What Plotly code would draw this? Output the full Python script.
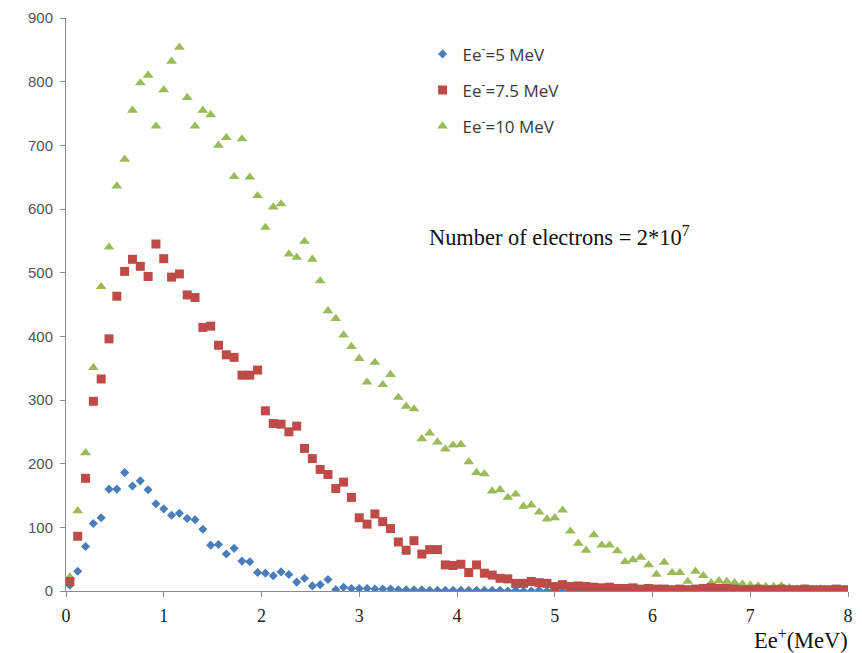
import plotly.graph_objects as go

# Positron energy bin centres (0.08 MeV bins from 0 to 8 MeV)
energy = [round(0.04 + 0.08 * i, 2) for i in range(100)]

counts_5mev = [
    9, 31, 70, 106, 115, 160, 160, 186, 165, 173,
    159, 137, 129, 119, 122, 114, 112, 97, 72, 73,
    58, 67, 47, 46, 29, 28, 24, 30, 26, 14,
    20, 8, 10, 18, 2, 6, 4, 4, 4, 3,
    3, 3, 2, 2, 2, 2, 1, 1, 1, 1,
    1, 1, 1, 1, 1, 1, 0, 1, 0, 0,
    1, 0, 0, 0, 0, 1, 0, 0, 0, 0,
    0, 0, 0, 0, 0, 0, 0, 0, 0, 0,
    0, 0, 0, 0, 0, 0, 0, 0, 0, 0,
    0, 0, 0, 0, 0, 0, 0, 0, 0, 0,
]

counts_7_5mev = [
    15, 86, 177, 298, 333, 396, 463, 502, 521, 510,
    494, 545, 522, 493, 498, 465, 461, 414, 416, 386,
    371, 367, 339, 339, 347, 283, 263, 262, 250, 259,
    224, 208, 191, 183, 161, 171, 147, 115, 105, 121,
    109, 98, 77, 64, 79, 58, 65, 65, 41, 40,
    42, 29, 41, 28, 25, 20, 19, 12, 12, 15,
    13, 12, 7, 10, 7, 8, 7, 6, 5, 6,
    4, 4, 5, 3, 4, 3, 3, 2, 3, 2,
    3, 4, 5, 4, 4, 3, 2, 2, 3, 2,
    2, 3, 2, 2, 3, 2, 2, 2, 3, 2,
]

counts_10mev = [
    22, 126, 217, 351, 478, 540, 636, 678, 755, 798,
    810, 730, 787, 832, 854, 775, 730, 755, 748, 700,
    712, 651, 710, 650, 621, 571, 603, 608, 529, 524,
    549, 521, 487, 440, 428, 402, 384, 365, 328, 359,
    324, 340, 304, 290, 286, 239, 248, 234, 223, 229,
    230, 203, 186, 184, 157, 159, 147, 152, 133, 135,
    124, 113, 115, 127, 94, 75, 64, 88, 72, 72,
    63, 46, 49, 53, 41, 26, 45, 29, 29, 15,
    31, 24, 13, 16, 15, 13, 11, 9, 8, 7,
    7, 8, 5, 3, 4, 2, 3, 2, 1, 2,
]

series_names = ["Ee<sup>-</sup>=5 MeV", "Ee<sup>-</sup>=7.5 MeV", "Ee<sup>-</sup>=10 MeV"]
x_ticks = [0, 1, 2, 3, 4, 5, 6, 7, 8]
y_ticks = [0, 100, 200, 300, 400, 500, 600, 700, 800, 900]

fig = go.Figure()

fig.add_trace(go.Scatter(
    x=energy, y=counts_5mev, mode="markers", name=series_names[0],
    legendgroup="a", legendrank=1,
    marker=dict(symbol="diamond", size=7, color="#4A7EBB", line=dict(width=0)),
))
fig.add_trace(go.Scatter(
    x=energy, y=counts_10mev, mode="markers", name=series_names[2],
    legendgroup="c", legendrank=3,
    marker=dict(symbol="triangle-up", size=9.5, color="#9BBB59", line=dict(width=0)),
))
fig.add_trace(go.Scatter(
    x=energy, y=counts_7_5mev, mode="markers", name=series_names[1],
    legendgroup="b", legendrank=2,
    marker=dict(symbol="square", size=9, color="#BE4B48", line=dict(width=0)),
))

axis_col = "#8A8A8A"

fig.update_layout(
    width=862, height=653,
    margin=dict(l=66, r=9, t=18, b=62),
    paper_bgcolor="white", plot_bgcolor="white",
    showlegend=True,
    legend=dict(
        x=0.456, y=0.968, xanchor="left", yanchor="top",
        font=dict(family="Open Sans", size=17, color="#3A3A3A"),
        tracegroupgap=11, bgcolor="rgba(0,0,0,0)",
    ),
    xaxis=dict(
        range=[0, 8], tickvals=x_ticks, ticktext=[str(t) for t in x_ticks],
        showgrid=False, zeroline=False,
        showline=True, linecolor=axis_col, linewidth=1,
        ticks="outside", ticklen=5, tickcolor=axis_col,
        ticklabelstandoff=3,
        tickfont=dict(family="Liberation Serif", size=18, color="#222222"),
    ),
    yaxis=dict(
        range=[0, 900], tickvals=y_ticks, ticktext=[str(t) for t in y_ticks],
        showgrid=False, zeroline=False,
        showline=True, linecolor=axis_col, linewidth=1,
        ticks="outside", ticklen=5, tickcolor=axis_col,
        ticklabelstandoff=4,
        tickfont=dict(family="Liberation Sans", size=15, color="#555555"),
    ),
    annotations=[
        dict(
            text="Number of electrons = 2*10<sup>7</sup>",
            xref="paper", yref="paper", x=0.461, y=0.62,
            xanchor="left", yanchor="middle", showarrow=False,
            font=dict(family="Liberation Serif", size=22.4, color="#111111"),
        ),
        dict(
            text="Ee<sup>+</sup>(MeV)",
            xref="paper", yref="paper", x=1.003, y=-0.083,
            xanchor="right", yanchor="middle", showarrow=False,
            font=dict(family="Liberation Serif", size=22.5, color="#111111"),
        ),
    ],
)

fig.write_html("out.html")
